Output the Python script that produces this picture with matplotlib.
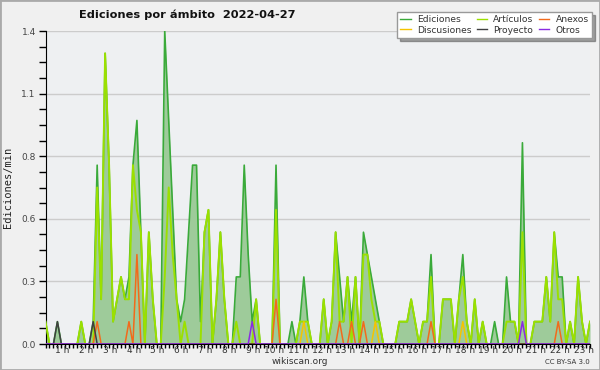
import numpy as np
import matplotlib.pyplot as plt
from matplotlib.lines import Line2D
from matplotlib.patches import Rectangle
from matplotlib.transforms import blended_transform_factory

# edits per 10-minute bin, starting at 00:00
ediciones = [1, 0, 0, 1, 0, 0, 0, 0, 0, 1, 0, 0, 1, 8, 2, 13, 8, 1, 2, 3,
             2, 3, 8, 10, 5, 0, 5, 2, 0, 0, 14, 10, 6, 2, 1, 2, 5, 8, 8, 1,
             5, 6, 0, 2, 5, 2, 0, 0, 3, 3, 8, 4, 1, 2, 0, 0, 0, 0, 8, 0,
             0, 0, 1, 0, 1, 3, 1, 0, 0, 0, 2, 0, 1, 5, 3, 1, 3, 1, 3, 0,
             5, 4, 3, 2, 1, 0, 0, 0, 0, 1, 1, 1, 2, 1, 0, 1, 1, 4, 0, 0,
             2, 2, 2, 0, 2, 4, 1, 0, 2, 0, 1, 0, 0, 1, 0, 0, 3, 1, 1, 0,
             9, 0, 0, 1, 1, 1, 3, 1, 5, 3, 3, 0, 1, 0, 3, 1, 0, 1]
articulos = [1, 0, 0, 0, 0, 0, 0, 0, 0, 1, 0, 0, 0, 7, 2, 13, 8, 1, 2, 3,
             2, 2, 8, 6, 5, 0, 5, 2, 0, 0, 3, 7, 4, 2, 0, 1, 0, 0, 0, 0,
             5, 6, 0, 2, 5, 2, 0, 0, 1, 0, 0, 0, 0, 2, 0, 0, 0, 0, 6, 0,
             0, 0, 0, 0, 1, 1, 1, 0, 0, 0, 2, 0, 1, 5, 1, 1, 3, 0, 3, 0,
             4, 4, 2, 1, 1, 0, 0, 0, 0, 1, 1, 1, 2, 1, 0, 1, 1, 3, 0, 0,
             2, 2, 2, 0, 2, 3, 1, 0, 2, 0, 1, 0, 0, 0, 0, 0, 1, 1, 1, 0,
             5, 0, 0, 1, 1, 1, 3, 1, 5, 2, 2, 0, 1, 0, 3, 1, 0, 1]
anexos = {13: 1, 21: 1, 23: 4, 58: 2, 74: 1, 77: 1, 80: 1, 97: 1, 129: 1}
discusiones = {65: 1, 83: 1, 105: 1}
proyecto = {3: 1, 12: 1}
otros = {52: 1, 120: 1}

n = len(ediciones)
t = np.arange(n) / 6.0


def serie(d):
    v = np.zeros(n)
    for k in d:
        v[k] = d[k]
    return v / 10.0


ed = np.array(ediciones) / 10.0
art = np.array(articulos) / 10.0

fig = plt.figure(figsize=(6, 3.7), dpi=100, facecolor='#f0f0f0')
ax = fig.add_axes([45.5 / 600, 26 / 370, 544.5 / 600, 313 / 370])
ax.set_facecolor('#eef0f2')

c_ed = '#3aaa3a'
c_art = '#9be000'
c_anx = '#f26a1b'
c_dis = '#f5c400'
c_pro = '#404040'
c_otr = '#8a2be2'

ax.fill_between(t, 0, ed, color='#9ecb9a', lw=0, zorder=2)
ax.plot(t, ed, color=c_ed, lw=1.2, zorder=3)
ax.plot(t, art, color=c_art, lw=1.4, zorder=4)
ax.plot(t, serie(discusiones), color=c_dis, lw=1.1, zorder=5)
ax.plot(t, serie(anexos), color=c_anx, lw=1.1, zorder=5)
ax.plot(t, serie(proyecto), color=c_pro, lw=1.1, zorder=5)
ax.plot(t, serie(otros), color=c_otr, lw=1.1, zorder=5)

ax.set_xlim(0, t[-1])
ax.set_ylim(0, 1.4)

yt = [0, 0.28, 0.56, 0.84, 1.12, 1.4]
ax.set_yticks(yt)
ax.set_yticklabels(['0.0', '0.3', '0.6', '0.8', '1.1', '1.4'], fontsize=6.5, color='#444')
ax.set_yticks(np.arange(0, 1.41, 0.07), minor=True)
ax.grid(axis='y', color='#cccccc', lw=1, zorder=1)
ax.set_xticks(t, minor=True)
ax.set_xticks([])
ax.tick_params(axis='y', which='both', length=5, width=1, color='black', pad=2)
ax.tick_params(axis='x', which='minor', length=3, width=1, color='black')

tr = blended_transform_factory(ax.transData, ax.transAxes)
for h in range(1, 24):
    ax.text(h, -0.006, '%d h' % h, transform=tr, ha='right', va='top',
            fontsize=6.5, color='#333', clip_on=False)

for s in ['top', 'right']:
    ax.spines[s].set_visible(False)
ax.spines['left'].set_color('black')
ax.spines['bottom'].set_color('black')

ax.set_ylabel('Ediciones/min', family='DejaVu Sans Mono', fontsize=7.5, color='#222', labelpad=6)

fig.text(187 / 600, 1 - 15 / 370, 'Ediciones por ámbito  2022-04-27', ha='center', va='center',
         fontsize=8.2, fontweight='bold', color='#111')
fig.text(300 / 600, 1 - 362 / 370, 'wikiscan.org', ha='center', va='center', fontsize=6.5, color='#333')
fig.text(590 / 600, 1 - 362 / 370, 'CC BY-SA 3.0', ha='right', va='center', fontsize=5, color='#333')

handles = [Line2D([], [], color=c_ed, lw=1), Line2D([], [], color=c_dis, lw=1),
           Line2D([], [], color=c_art, lw=1), Line2D([], [], color=c_pro, lw=1),
           Line2D([], [], color=c_anx, lw=1), Line2D([], [], color=c_otr, lw=1)]
labels = ['Ediciones', 'Discusiones', 'Artículos', 'Proyecto', 'Anexos', 'Otros']
leg = fig.legend(handles, labels, ncol=3, loc='upper right', bbox_to_anchor=(592 / 600, 1 - 12 / 370),
                 fontsize=6.6, frameon=True, fancybox=False, shadow=True, edgecolor='#999999',
                 framealpha=1, handlelength=1.1, columnspacing=0.6, labelspacing=0.15,
                 borderpad=0.35, handletextpad=0.7, borderaxespad=0)
for txt in leg.get_texts():
    txt.set_color('#333')

fig.patches.append(Rectangle((0, 0), 1, 1, transform=fig.transFigure, fill=False,
                             edgecolor='#aaaaaa', lw=2))

fig.savefig('out.png', dpi=100)
